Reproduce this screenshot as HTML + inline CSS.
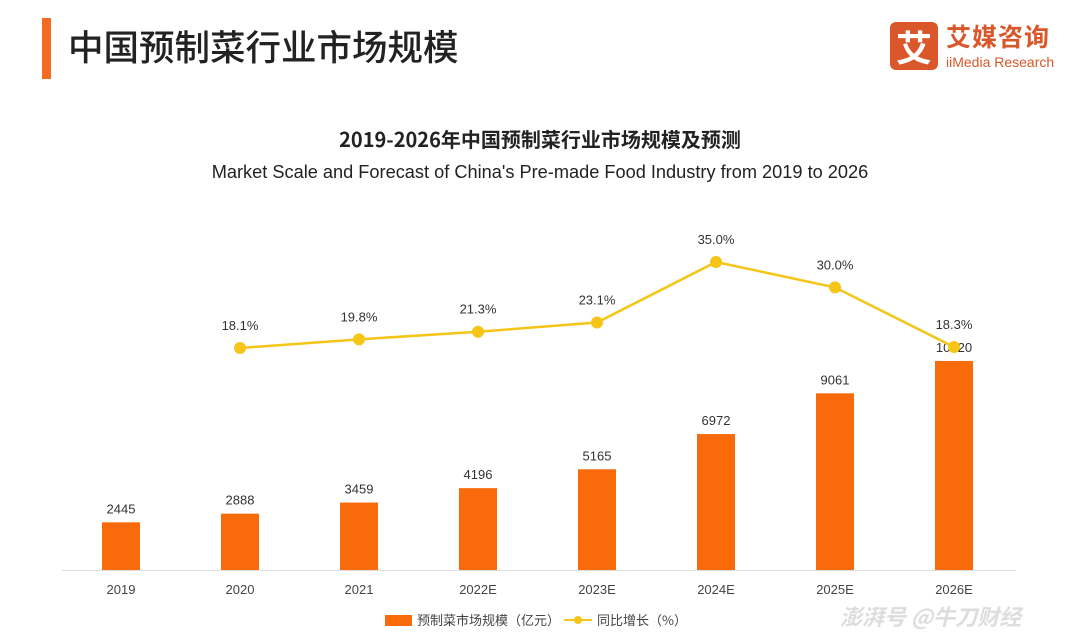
<!DOCTYPE html>
<html><head><meta charset="utf-8"><style>
body{margin:0;width:1080px;height:638px;background:#fff;overflow:hidden;font-family:"Liberation Sans","Noto Sans CJK SC",sans-serif;position:relative}
.abs{position:absolute}
</style></head><body>
<div class="abs" style="left:42px;top:18px;width:9px;height:61px;background:#f26b21"></div>
<div class="abs" style="left:68px;top:20px;font-size:35.5px;font-weight:500;color:#222;font-family:'Noto Sans CJK SC',sans-serif">中国预制菜行业市场规模</div>
<div class="abs" style="left:890px;top:22px;width:180px;height:50px">
 <div style="position:absolute;left:0;top:0;width:48px;height:48px;background:#d9572a;border-radius:6px;color:#fff;font-size:36px;font-weight:bold;text-align:center;line-height:48px;font-family:'Noto Sans CJK SC',sans-serif">艾</div>
 <div style="position:absolute;left:56px;top:-4px;color:#d9572a;font-size:25px;font-weight:bold;font-family:'Noto Sans CJK SC',sans-serif;letter-spacing:1px">艾媒咨询</div>
 <div style="position:absolute;left:56px;top:32px;color:#d9572a;font-size:14px">iiMedia Research</div>
</div>
<div class="abs" style="left:0;width:1080px;top:124px;text-align:center;font-size:20px;font-weight:bold;color:#222;font-family:'Noto Sans CJK SC',sans-serif">2019-2026年中国预制菜行业市场规模及预测</div>
<div class="abs" style="left:0;width:1080px;top:162px;text-align:center;font-size:18.2px;color:#222">Market Scale and Forecast of China's Pre-made Food Industry from 2019 to 2026</div>
<svg class="abs" style="left:0;top:0" width="1080" height="638" font-family="Liberation Sans, sans-serif">
<g id="g"></g>
<rect x="385" y="615" width="27" height="11" fill="#f96a0a"/>
<text x="417" y="625" font-size="13" fill="#444" font-family="Noto Sans CJK SC, sans-serif">预制菜市场规模（亿元）</text>
<line x1="564" y1="620" x2="592" y2="620" stroke="#f5c518" stroke-width="2"/>
<circle cx="578" cy="620" r="4" fill="#f5c518"/>
<text x="597" y="625" font-size="13" fill="#444" font-family="Noto Sans CJK SC, sans-serif">同比增长（%）</text>
<text x="840" y="625" font-size="22" fill="#ddd" font-style="italic" font-weight="bold" font-family="Noto Sans CJK SC, sans-serif">澎湃号 @牛刀财经</text>
</svg>
<script>
const categories=["2019","2020","2021","2022E","2023E","2024E","2025E","2026E"];
const marketSize=[2445,2888,3459,4196,5165,6972,9061,10720];
const growth=[null,18.1,19.8,21.3,23.1,35.0,30.0,18.3];
const g=document.getElementById('g');const NS="http://www.w3.org/2000/svg";
const x=i=>121+i*119, yb=v=>570-v*0.0195, yl=v=>348-(v-18.1)*5.09;
function mk(t,a,txt){const e=document.createElementNS(NS,t);for(const k in a)e.setAttribute(k,a[k]);if(txt!=null)e.textContent=txt;g.appendChild(e);return e;}
let ax=mk('line',{x1:62,x2:1016,y1:570.5,y2:570.5,stroke:'#ddd'});


categories.forEach((c,i)=>{
 let b=mk('rect',{x:x(i)-19,y:yb(marketSize[i]),width:38,height:570-yb(marketSize[i]),fill:'#f96a0a'});
 
 
 let t=mk('text',{x:x(i),y:yb(marketSize[i])-9,'text-anchor':'middle','font-size':13,fill:'#333'},marketSize[i]);
 
 
 let l=mk('text',{x:x(i),y:594,'text-anchor':'middle','font-size':13,fill:'#444'},c);
 
 
});
let pts=[];growth.forEach((v,i)=>{if(v!=null)pts.push(x(i)+','+yl(v));});
let pl=mk('polyline',{points:pts.join(' '),fill:'none',stroke:'#f5c518','stroke-width':2.5});


growth.forEach((v,i)=>{if(v==null)return;
 let c=mk('circle',{cx:x(i),cy:yl(v),r:6,fill:'#f5c518'});
 
 
 let t=mk('text',{x:x(i),y:yl(v)-18,'text-anchor':'middle','font-size':13,fill:'#333'},v.toFixed(1)+'%');
 
 
});
</script>
</body></html>
